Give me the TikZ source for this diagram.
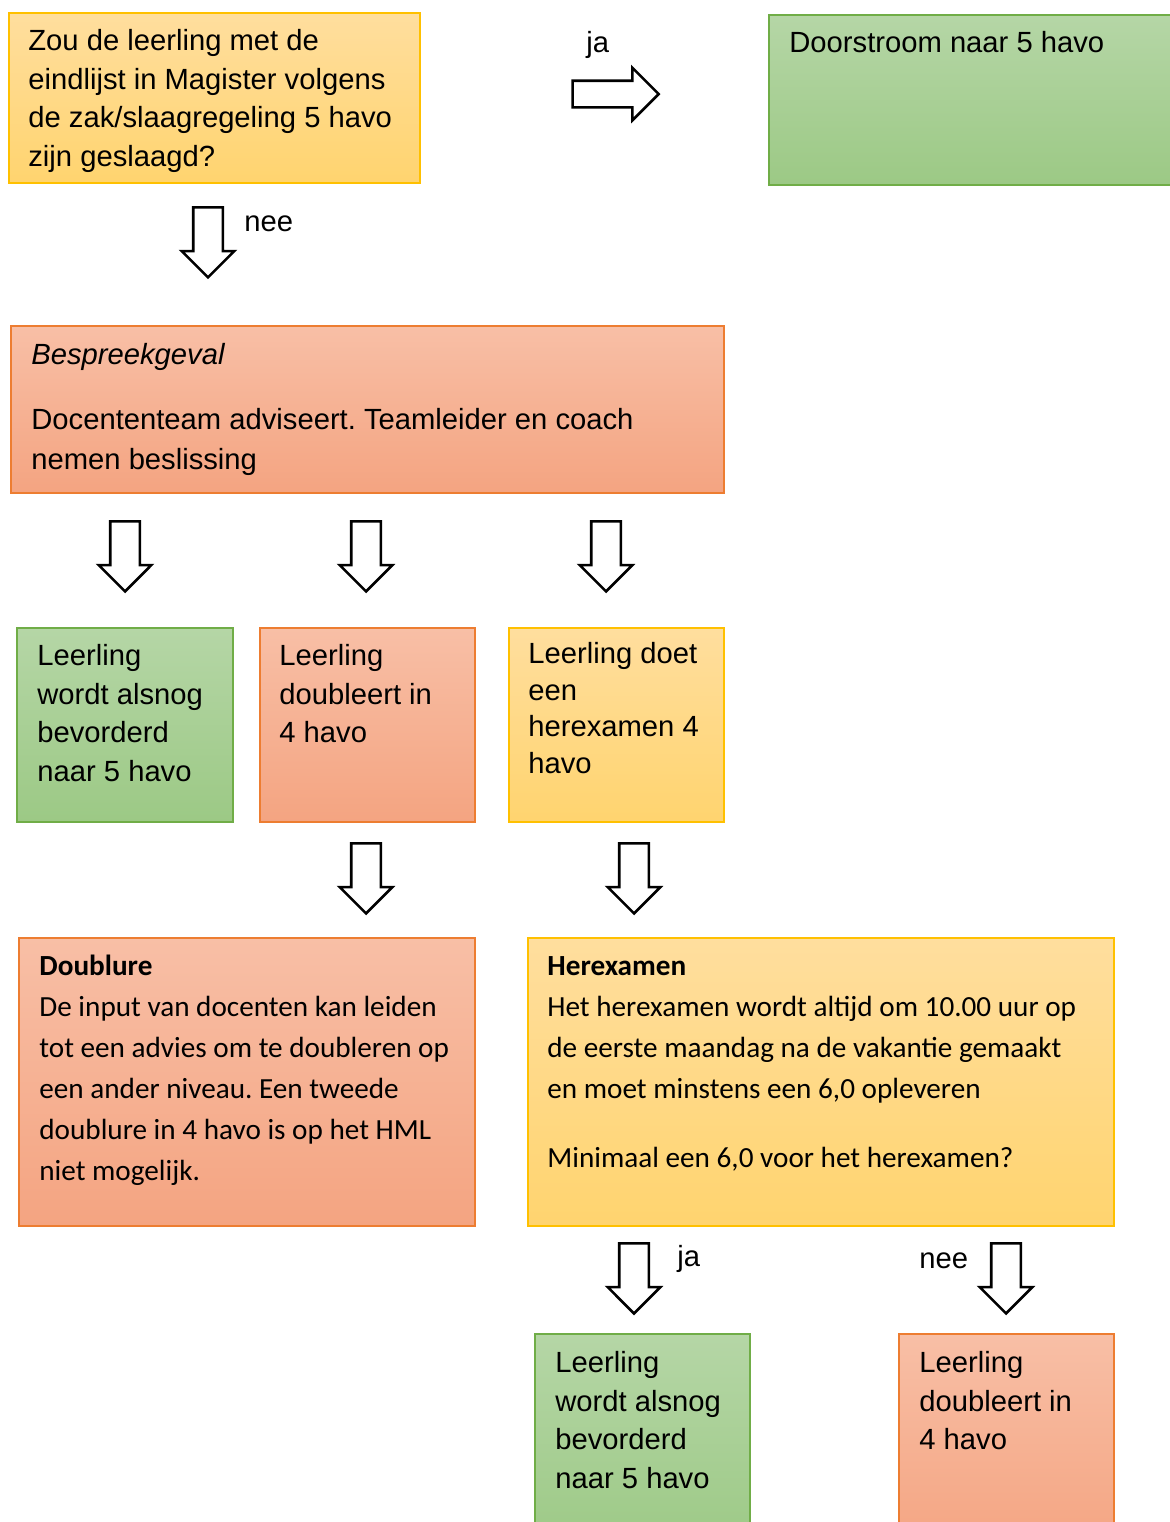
\documentclass[tikz,border=0pt]{standalone}
\usepackage{fontspec}
\setmainfont{Liberation Sans}
\newfontfamily\calibri{Carlito}
\usetikzlibrary{shapes.arrows}
\definecolor{geelboven}{HTML}{FFDE9E}
\definecolor{geelonder}{HTML}{FFD46F}
\definecolor{geelrand}{HTML}{FFC000}
\definecolor{groenboven}{HTML}{B5D6A6}
\definecolor{groenonder}{HTML}{9CC985}
\definecolor{groenrand}{HTML}{70AD47}
\definecolor{roodboven}{HTML}{F8BFA6}
\definecolor{roodonder}{HTML}{F4A481}
\definecolor{roodrand}{HTML}{ED7D31}
\newcommand\lstrut{\rule{0pt}{11pt}}
\frenchspacing
\begin{document}
\begin{tikzpicture}[
  x=0.5pt, y=-0.5pt,
  vak/.style={rectangle, anchor=north west, inner sep=0pt, line width=0.9pt},
  geelvak/.style={vak, draw=geelrand, top color=geelboven, bottom color=geelonder},
  groenvak/.style={vak, draw=groenrand, top color=groenboven, bottom color=groenonder},
  roodvak/.style={vak, draw=roodrand, top color=roodboven, bottom color=roodonder},
  tekst/.style={anchor=north west, inner sep=0pt, align=left, font=\frenchspacing\fontsize{14.6}{19.3}\selectfont},
  ctekst/.style={tekst, font=\frenchspacing\calibri\fontsize{14.6}{20.5}\selectfont},
  label/.style={anchor=base west, inner sep=0pt, font=\fontsize{14.6}{17}\selectfont},
  blokpijl/.style={single arrow, draw=black, line width=1.3pt, fill=white, inner xsep=0pt,
    inner ysep=6pt, single arrow head extend=6.5pt, minimum height=43pt, minimum width=0pt},
  omlaag/.style={blokpijl, shape border rotate=270, inner xsep=6.75pt, inner ysep=0pt,
    single arrow head extend=5.75pt, minimum height=35pt}
]
  \useasboundingbox (0,0) rectangle (1170,1522);
  \clip (0,0) rectangle (1170,1522);
  \node[geelvak, minimum width=205.5pt, minimum height=85pt] (vraag) at (8,12) {};
  \node[groenvak, minimum width=211pt, minimum height=85pt] (door) at (768,14) {};
  \node[roodvak, minimum width=356.5pt, minimum height=83.5pt] (bespreek) at (10,325) {};
  \node[groenvak, minimum width=108pt, minimum height=97pt] (bev) at (16,627) {};
  \node[roodvak, minimum width=107.5pt, minimum height=97pt] (doub) at (259,627) {};
  \node[geelvak, minimum width=107.5pt, minimum height=97pt] (herex) at (508,627) {};
  \node[roodvak, minimum width=228pt, minimum height=144pt] (doublure) at (18,937) {};
  \node[geelvak, minimum width=293pt, minimum height=144pt] (herexamen) at (527,937) {};
  \node[groenvak, minimum width=107.5pt, minimum height=110pt] (bev2) at (534,1333) {};
  \node[roodvak, minimum width=107.5pt, minimum height=110pt] (doub2) at (898,1333) {};

  \node[tekst] (tvraag) at (28,28) {\lstrut Zou de leerling met de\\eindlijst in Magister volgens\\de zak/slaagregeling 5 havo\\zijn geslaagd?};
  \node[tekst] (tdoor) at (789,30) {\lstrut Doorstroom naar 5 havo};
  \node[tekst, font=\frenchspacing\fontsize{14.6}{20}\selectfont] (tbespreek) at (31,342) {\lstrut\textit{Bespreekgeval}\\[12.75pt]Docententeam adviseert. Teamleider en coach\\nemen beslissing};
  \node[tekst] (tbev) at (37,643) {\lstrut Leerling\\wordt alsnog\\bevorderd\\naar 5 havo};
  \node[tekst] (tdoub) at (279,643) {\lstrut Leerling\\doubleert in\\4 havo};
  \node[tekst, font=\fontsize{14.6}{18.35}\selectfont] (therex) at (528,641) {\lstrut Leerling doet\\een\\herexamen 4\\havo};
  \node[ctekst] (tdoublure) at (39,953) {\lstrut\textbf{Doublure}\\De input van docenten kan leiden\\tot een advies om te doubleren op\\een ander niveau. Een tweede\\doublure in 4 havo is op het HML\\niet mogelijk.};
  \node[ctekst] (therexamen) at (547,953) {\lstrut\textbf{Herexamen}\\Het herexamen wordt altijd om 10.00 uur op\\de eerste maandag na de vakantie gemaakt\\en moet minstens een 6,0 opleveren\\[14pt]Minimaal een 6,0 voor het herexamen?};
  \node[tekst] (tbev2) at (555,1350) {\lstrut Leerling\\wordt alsnog\\bevorderd\\naar 5 havo};
  \node[tekst] (tdoub2) at (919,1350) {\lstrut Leerling\\doubleert in\\4 havo};

  \node[blokpijl] (pja) at (609,94) {};
  \node[omlaag] (pnee) at (208,235) {};
  \node[omlaag] (p1) at (125,549) {};
  \node[omlaag] (p2) at (366,549) {};
  \node[omlaag] (p3) at (606,549) {};
  \node[omlaag] (p4) at (366,871) {};
  \node[omlaag] (p5) at (634,871) {};
  \node[omlaag] (pja2) at (634,1271) {};
  \node[omlaag] (pnee2) at (1006,1271) {};

  \node[label] (lja) at (586,52) {ja};
  \node[label] (lnee) at (244,231) {nee};
  \node[label] (lja2) at (677,1266) {ja};
  \node[label] (lnee2) at (919,1268) {nee};
\end{tikzpicture}
\end{document}
